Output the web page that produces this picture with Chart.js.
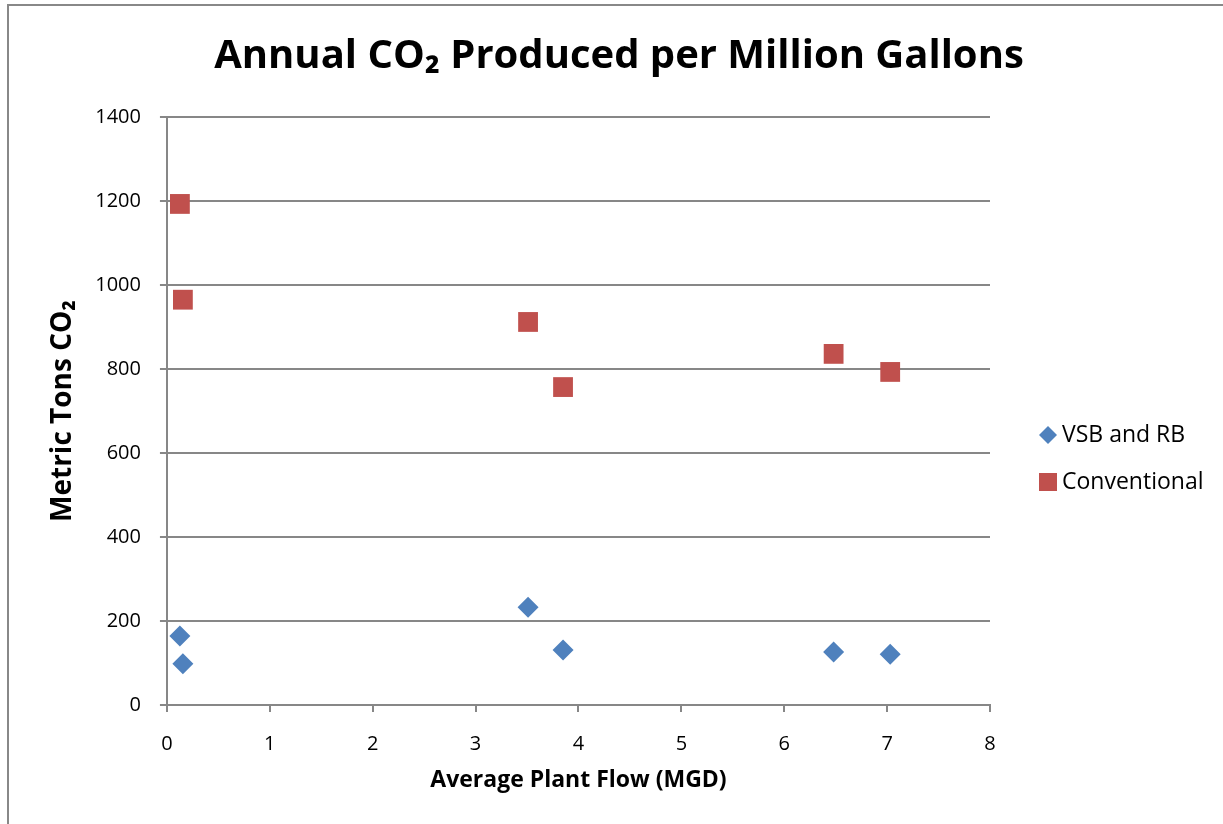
<!DOCTYPE html>
<html>
<head>
<meta charset="utf-8">
<script src="https://cdn.jsdelivr.net/npm/chart.js@4"></script>
<style>
  html, body { margin: 0; padding: 0; background: #fff; }
  #wrap { position: relative; width: 1223px; height: 824px; }
  #frame { position: absolute; left: 7px; top: 4px; right: 0; bottom: 0; border-top: 2px solid #888; border-left: 2px solid #888; pointer-events: none; }
  canvas { display: block; }
</style>
</head>
<body>
<div id="wrap">
  <canvas id="c" width="1223" height="824"></canvas>
  <div id="frame"></div>
</div>
<script>
const seriesNames = ["VSB and RB", "Conventional"];
const vsbX = [0.126, 0.155, 3.51, 3.85, 6.48, 7.03];
const vsbY = [164, 98, 233, 131, 126, 121];
const convX = [0.126, 0.155, 3.51, 3.85, 6.48, 7.03];
const convY = [1193, 965, 912, 757, 836, 793];
const xTicks = [0, 1, 2, 3, 4, 5, 6, 7, 8];
const yTicks = [0, 200, 400, 600, 800, 1000, 1200, 1400];

const BLUE = "#4F81BD";
const RED = "#C0504D";
const GRID = "#878787";
const FONT = "'Open Sans', 'Noto Sans', sans-serif";

function pts(xs, ys) { return xs.map((x, i) => ({ x: x, y: ys[i] })); }

const customLegend = {
  id: "customLegend",
  afterDraw(chart) {
    const ctx = chart.ctx;
    const ds = chart.data.datasets;
    const left = 1039, top0 = 435, gap = 47;
    ctx.save();
    ctx.font = "23px " + FONT;
    ctx.textBaseline = "middle";
    ds.forEach((d, i) => {
      const cy = top0 + i * gap;
      ctx.fillStyle = d.backgroundColor;
      ctx.beginPath();
      if (d.pointStyle === "rectRot") {
        const r = 9;
        ctx.moveTo(left + r, cy - r);
        ctx.lineTo(left + 2 * r, cy);
        ctx.lineTo(left + r, cy + r);
        ctx.lineTo(left, cy);
        ctx.closePath();
      } else {
        ctx.rect(left, cy - 9, 18, 18);
      }
      ctx.fill();
      ctx.fillStyle = "#000";
      ctx.fillText(d.label, 1062, cy);
    });
    ctx.restore();
  }
};

new Chart(document.getElementById("c"), {
  type: "scatter",
  data: {
    datasets: [
      { label: seriesNames[0], data: pts(vsbX, vsbY), backgroundColor: BLUE, borderColor: BLUE, borderWidth: 0, pointStyle: "rectRot", pointRadius: 10.5, pointHoverRadius: 10.5 },
      { label: seriesNames[1], data: pts(convX, convY), backgroundColor: RED, borderColor: RED, borderWidth: 0, pointStyle: "rect", pointRadius: 14, pointHoverRadius: 14 }
    ]
  },
  options: {
    responsive: false,
    animation: false,
    events: [],
    layout: { padding: { left: 15, right: 0, top: 0, bottom: 0 } },
    plugins: {
      legend: { display: false },
      tooltip: { enabled: false },
      title: {
        display: true,
        text: "Annual CO₂ Produced per Million Gallons",
        color: "#000",
        font: { family: FONT, size: 40, weight: "bold" },
        padding: { top: 33, bottom: 36 }
      }
    },
    scales: {
      x: {
        type: "linear",
        min: 0, max: 8,
        afterBuildTicks: (s) => { s.ticks = xTicks.map(v => ({ value: v })); },
        ticks: { color: "#000", font: { family: FONT, size: 20 }, padding: 20, callback: (v) => String(v) },
        grid: { drawOnChartArea: false, drawTicks: true, tickLength: 7, color: GRID, lineWidth: 2 },
        border: { display: true, color: GRID, width: 2 },
        title: { display: true, text: "Average Plant Flow (MGD)", color: "#000", font: { family: FONT, size: 23, weight: "bold" }, padding: { top: -9.6, bottom: 30 } }
      },
      y: {
        type: "linear",
        min: 0, max: 1400,
        afterBuildTicks: (s) => { s.ticks = yTicks.map(v => ({ value: v })); },
        ticks: { color: "#000", font: { family: FONT, size: 20 }, padding: 19, callback: (v) => String(v) },
        grid: { drawOnChartArea: true, drawTicks: true, tickLength: 7, color: GRID, lineWidth: 2 },
        border: { display: true, color: GRID, width: 2 },
        title: { display: true, text: "Metric Tons CO₂", color: "#000", font: { family: FONT, size: 28, weight: "bold" }, padding: { top: 31, bottom: -3.4 } }
      },
      legendSpace: {
        type: "linear",
        position: "right",
        display: true,
        grid: { display: false, drawTicks: false },
        ticks: { display: false },
        border: { display: false },
        afterFit: (s) => { s.width = 233; }
      }
    }
  },
  plugins: [customLegend]
});
</script>
</body>
</html>
